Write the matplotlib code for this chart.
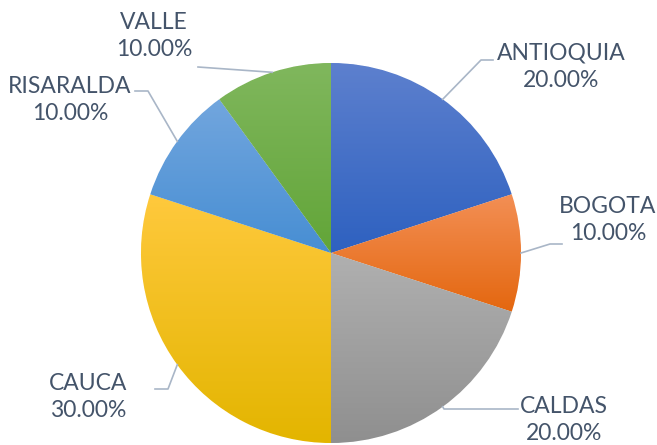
import numpy as np
import matplotlib
matplotlib.use("Agg")
import matplotlib.pyplot as plt
from matplotlib.colors import LinearSegmentedColormap

# data
regiones = ["ANTIOQUIA", "BOGOTA", "CALDAS", "CAUCA", "RISARALDA", "VALLE"]
porcentajes = [20, 10, 20, 30, 10, 10]

# colores (claro arriba, oscuro abajo)
col_claro = ["#5D80CE", "#F38F55", "#B0B0B0", "#FFC93D", "#72A6DE", "#80B75D"]
col_oscuro = ["#2E61C0", "#E4670F", "#8F8F8F", "#E3B500", "#478ED3", "#62A538"]

# posiciones de etiquetas (px, imagen) y codos de las lineas guia
pos_label = [(561, 67), (608, 220), (564, 420), (88, 397), (70, 100), (154, 36)]
codo = [(481, 60), (550, 244), (444, 409), (168, 389), (148, 91), (198, 67)]
fin = [(493, 60), (562, 244), (518, 409), (155, 389), (135, 91), (198, 67)]

W, H = 657, 445
fig = plt.figure(figsize=(W / 100, H / 100), dpi=100)
ax = fig.add_axes([0, 0, 1, 1])
ax.set_xlim(0, W)
ax.set_ylim(0, H)
ax.set_aspect("equal")
ax.axis("off")

cx, cy, r = 331, H - 253, 190
wedges, _ = ax.pie(porcentajes, startangle=90, counterclock=False,
                   center=(cx, cy), radius=r, colors=col_claro,
                   wedgeprops=dict(edgecolor="white", linewidth=0.6))

# degradado vertical en cada porcion
for w, c1, c2 in zip(wedges, col_claro, col_oscuro):
    v = w.get_path().vertices
    x0, x1 = v[:, 0].min(), v[:, 0].max()
    y0, y1 = v[:, 1].min(), v[:, 1].max()
    cmap = LinearSegmentedColormap.from_list("g", [c2, c1])
    grad = np.linspace(0, 1, 256).reshape(-1, 1)
    im = ax.imshow(grad, cmap=cmap, origin="lower", extent=(x0, x1, y0, y1),
                   aspect="auto", zorder=w.get_zorder() + 0.1)
    im.set_clip_path(w)
ax.set_xlim(0, W)
ax.set_ylim(0, H)

# etiquetas y lineas guia
for w, nom, p, lp, cd, fn in zip(wedges, regiones, porcentajes, pos_label, codo, fin):
    ang = np.deg2rad((w.theta1 + w.theta2) / 2)
    x_s = cx + r * np.cos(ang)
    y_s = cy + r * np.sin(ang)
    ax.plot([x_s, cd[0], fn[0]], [y_s, H - cd[1], H - fn[1]],
            color="#A9B6C7", lw=1.2, zorder=5)
    ax.text(lp[0], H - lp[1], f"{nom}\n{p:.2f}%", ha="center", va="center",
            fontsize=16.5, family="Lato", color="#44546A", linespacing=1.4)

fig.savefig("out.png", dpi=100)
